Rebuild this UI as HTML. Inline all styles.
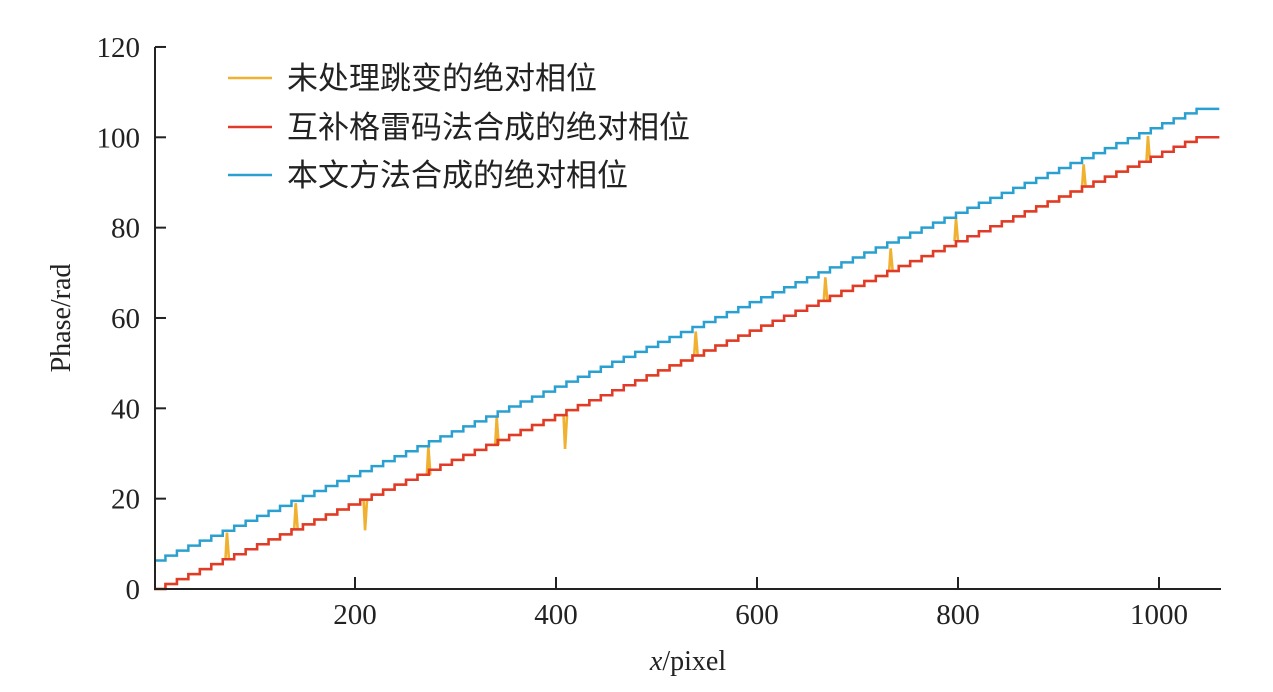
<!DOCTYPE html>
<html><head><meta charset="utf-8"><style>
body{margin:0;background:#fff}
svg text{font-family:"Liberation Serif","Noto Serif CJK SC",serif;fill:#222}
</style></head><body>
<svg id="chart" width="1273" height="687" viewBox="0 0 1273 687" xmlns="http://www.w3.org/2000/svg">
<g id="plot"></g>
<g id="axes"></g>
<g>
  <g><line x1="228" y1="78" x2="272" y2="78" stroke="#f0b030" stroke-width="2.5"/><text x="287" y="89" font-size="31" style="font-family:'Noto Sans CJK SC',sans-serif">未处理跳变的绝对相位</text></g>
  <g><line x1="228" y1="127" x2="272" y2="127" stroke="#e03a2a" stroke-width="2.5"/><text x="287" y="138" font-size="31" style="font-family:'Noto Sans CJK SC',sans-serif">互补格雷码法合成的绝对相位</text></g>
  <g><line x1="228" y1="175" x2="272" y2="175" stroke="#2aa0d0" stroke-width="2.5"/><text x="287" y="186" font-size="31" style="font-family:'Noto Sans CJK SC',sans-serif">本文方法合成的绝对相位</text></g>
</g>
<text transform="translate(70,318) rotate(-90)" text-anchor="middle" font-size="28">Phase/rad</text>
<text x="688" y="670" text-anchor="middle" font-size="28"><tspan font-style="italic">x</tspan>/pixel</text>
</svg>
<script>
const redLevels=[0,1.1,2.2,3.3,4.4,5.5,6.6,7.7,8.8,9.9,11,12.1,13.2,14.3,15.4,16.5,17.6,18.7,19.8,20.9,22,23.1,24.2,25.3,26.4,27.5,28.6,29.7,30.8,31.9,33,34.1,35.2,36.3,37.4,38.5,39.6,40.7,41.8,42.9,44,45.1,46.2,47.3,48.4,49.5,50.6,51.7,52.8,53.9,55,56.1,57.2,58.3,59.4,60.5,61.6,62.7,63.8,64.9,66,67.1,68.2,69.3,70.4,71.5,72.6,73.7,74.8,75.9,77,78.1,79.2,80.3,81.4,82.5,83.6,84.7,85.8,86.9,88,89.1,90.2,91.3,92.4,93.5,94.6,95.7,96.8,97.9,99,100];
const stepWidth=11.4;
const blueOffset=6.3;
const spikeX=[72.6,141,210,273,341,409,539,668,733,798,925,989];
const spikeVal=[12.5,19,13,31.6,38,31,57,69,75.4,82,94,100.3];
const xTicks=[200,400,600,800,1000];
const yTicks=[0,20,40,60,80,100,120];
const xMax=1060;
const X=v=>154+v*1.005;
const Y=v=>589-v*4.517;
const NS="http://www.w3.org/2000/svg";
const plot=document.getElementById('plot'),axes=document.getElementById('axes');
function mk(t,a,p){const e=document.createElementNS(NS,t);for(const k in a)e.setAttribute(k,a[k]);p.appendChild(e);return e;}
function stairPath(off){let d='';redLevels.forEach((l,i)=>{const x0=i*stepWidth,x1=(i==redLevels.length-1)?xMax:(i+1)*stepWidth;d+=(i?'L':'M')+X(x0)+','+Y(l+off)+'L'+X(x1)+','+Y(l+off);});return d;}
function levelAt(x){return redLevels[Math.min(redLevels.length-1,Math.floor(x/stepWidth))];}
const yel=mk('path',{d:stairPath(0),fill:'none',stroke:'#f0b030','stroke-width':2.5},plot);


spikeX.forEach((sx,i)=>{const s=mk('path',{d:'M'+(X(sx)-1.5)+','+Y(levelAt(sx))+'L'+X(sx)+','+Y(spikeVal[i])+'L'+(X(sx)+2)+','+Y(levelAt(sx)),fill:'none',stroke:'#f0b030','stroke-width':2.6},plot);

});
const red=mk('path',{d:stairPath(0),fill:'none',stroke:'#e03a2a','stroke-width':2.5},plot);


const blue=mk('path',{d:stairPath(blueOffset),fill:'none',stroke:'#2aa0d0','stroke-width':2.5},plot);


const ax=mk('path',{d:'M155,47L155,589L1221,589',fill:'none',stroke:'#222','stroke-width':2},axes);


yTicks.forEach(v=>{const t=mk('line',{x1:155,x2:166,y1:Y(v),y2:Y(v),stroke:'#222','stroke-width':2},axes);


const l=mk('text',{x:140,y:Y(v)+10,'text-anchor':'end','font-size':29},axes);l.textContent=v;

});
xTicks.forEach(v=>{const t=mk('line',{x1:X(v),x2:X(v),y1:589,y2:577,stroke:'#222','stroke-width':2},axes);


const l=mk('text',{x:X(v),y:624,'text-anchor':'middle','font-size':29},axes);l.textContent=v;

});
</script>
</body></html>
